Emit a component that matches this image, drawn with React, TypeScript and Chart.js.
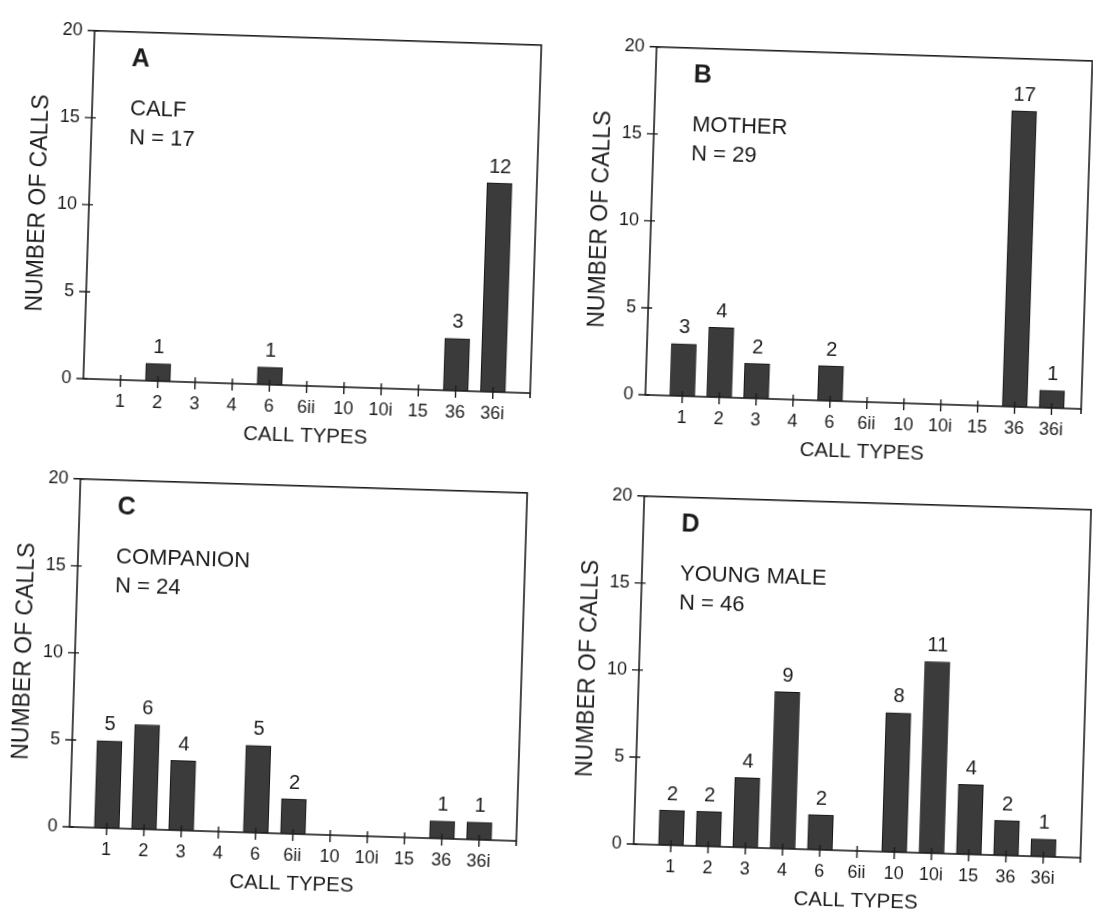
import React, { useEffect, useRef } from 'react';
import { Chart, registerables } from 'chart.js';

Chart.register(...registerables);

// ---------- data ----------
const callTypes = ['1', '2', '3', '4', '6', '6ii', '10', '10i', '15', '36', '36i'];
const calfCounts = [0, 1, 0, 0, 1, 0, 0, 0, 0, 3, 12];
const motherCounts = [3, 4, 2, 0, 2, 0, 0, 0, 0, 17, 1];
const companionCounts = [5, 6, 4, 0, 5, 2, 0, 0, 0, 1, 1];
const youngMaleCounts = [2, 2, 4, 9, 2, 0, 8, 11, 4, 2, 1];
const yTickValues = [0, 5, 10, 15, 20];
const panelLetters = ['A', 'B', 'C', 'D'];
const panelNames = ['CALF', 'MOTHER', 'COMPANION', 'YOUNG MALE'];
const panelN = [17, 29, 24, 46];
const xTitle = 'CALL TYPES';
const yTitle = 'NUMBER OF CALLS';

const panelSeries = [calfCounts, motherCounts, companionCounts, youngMaleCounts];

// ---------- layout / style ----------
const INK = '#1c1c1c';
const BAR_FILL = '#3b3b3b';
const FONT = '"Liberation Sans", Arial, Helvetica, sans-serif';
const CANVAS_H = 446;
const BOX_LEFT = 80;
const BOX_TOP = 15;
const BOX_H = 356;
const RIGHT_PAD = 15;
const ORIGIN_Y = BOX_TOP + BOX_H / 2;

// bottom-left corner of each plot box in the page, box width, x extent, tilt
const panelPlacement = [
  { blx: 83.3, bly: 378.3, w: 447, xMax: 12, rot: 1.85 },
  { blx: 645.0, bly: 395.0, w: 436, xMax: 11.8, rot: 1.85 },
  { blx: 70.0, bly: 827.3, w: 447, xMax: 12, rot: 1.8 },
  { blx: 633.3, bly: 844.0, w: 447, xMax: 12, rot: 1.75 },
];

const decorPlugin = {
  id: 'decor',
  afterDraw(chart: any) {
    const { ctx, chartArea: a, scales } = chart;
    const o = chart.options.plugins.decor;
    ctx.save();
    ctx.strokeStyle = INK;
    ctx.lineWidth = 1.6;
    ctx.strokeRect(a.left, a.top, a.right - a.left, a.bottom - a.top);
    ctx.beginPath();
    ctx.moveTo(a.right, a.bottom);
    ctx.lineTo(a.right, a.bottom + 5);
    ctx.stroke();
    ctx.lineWidth = 1.4;
    ctx.beginPath();
    scales.y.ticks.forEach((t: any) => {
      const py = scales.y.getPixelForValue(t.value);
      ctx.moveTo(a.left - 7, py);
      ctx.lineTo(a.left + 4, py);
    });
    scales.x.ticks.forEach((t: any) => {
      const px = scales.x.getPixelForValue(t.value);
      ctx.moveTo(px, a.bottom - 5);
      ctx.lineTo(px, a.bottom + 7);
    });
    ctx.stroke();

    // value labels
    ctx.fillStyle = INK;
    ctx.textAlign = 'center';
    ctx.textBaseline = 'bottom';
    ctx.font = `20px ${FONT}`;
    const meta = chart.getDatasetMeta(0);
    const data = chart.data.datasets[0].data;
    meta.data.forEach((bar: any, i: number) => {
      const v = data[i].y;
      if (v > 0) ctx.fillText(String(v), bar.x, bar.y - 6);
    });

    // panel annotation
    ctx.textAlign = 'left';
    ctx.textBaseline = 'middle';
    ctx.font = `bold 25px ${FONT}`;
    ctx.fillText(o.letter, a.left + 38, a.top + 27);
    ctx.font = `22px ${FONT}`;
    ctx.fillText(o.name, a.left + 38, a.top + 77);
    ctx.fillText(`N = ${o.n}`, a.left + 38, a.top + 106);
    ctx.restore();
  },
};

function Panel({ index }: { index: number }) {
  const ref = useRef<HTMLCanvasElement | null>(null);
  const p = panelPlacement[index];
  const canvasW = BOX_LEFT + p.w + RIGHT_PAD;
  useEffect(() => {
    if (!ref.current) return;
    const values = panelSeries[index];
    const chart = new Chart(ref.current, {
      type: 'bar',
      data: {
        datasets: [
          {
            data: values.map((v, i) => ({ x: i + 1, y: v })),
            backgroundColor: BAR_FILL,
            borderColor: '#151515',
            borderWidth: 1,
            barThickness: 25,
          },
        ],
      },
      options: {
        animation: false,
        responsive: false,
        devicePixelRatio: 1,
        layout: { padding: { left: 0, top: BOX_TOP, right: RIGHT_PAD, bottom: 0 } },
        plugins: {
          legend: { display: false },
          tooltip: { enabled: false },
          decor: { letter: panelLetters[index], name: panelNames[index], n: panelN[index] },
        } as any,
        scales: {
          x: {
            type: 'linear',
            min: 0,
            max: p.xMax,
            offset: false,
            grid: { display: false, drawTicks: false, offset: false },
            border: { display: false },
            afterBuildTicks: (s: any) => {
              s.ticks = callTypes.map((_, i) => ({ value: i + 1 }));
            },
            afterFit: (s: any) => {
              s.height = CANVAS_H - BOX_TOP - BOX_H;
            },
            ticks: {
              autoSkip: false,
              maxRotation: 0,
              padding: 11,
              color: INK,
              font: { family: FONT, size: 18 },
              callback: (v: any) => callTypes[Number(v) - 1] ?? '',
            },
            title: {
              display: true,
              text: xTitle,
              color: INK,
              font: { family: FONT, size: 20.5 },
              padding: { top: 0, bottom: 12 },
            },
          },
          y: {
            type: 'linear',
            min: 0,
            max: 20,
            grid: { display: false, drawTicks: false },
            border: { display: false },
            afterBuildTicks: (s: any) => {
              s.ticks = yTickValues.map((v) => ({ value: v }));
            },
            afterFit: (s: any) => {
              s.width = BOX_LEFT;
            },
            ticks: {
              padding: 12,
              color: INK,
              font: { family: FONT, size: 18 },
            },
            title: {
              display: true,
              text: yTitle,
              color: INK,
              font: { family: FONT, size: 23 },
              padding: { top: 16, bottom: 0 },
            },
          },
        },
      },
      plugins: [decorPlugin as any],
    });
    return () => chart.destroy();
  }, [index]);

  // centre of the plot box in the page, from its bottom-left corner and tilt
  const t = (p.rot * Math.PI) / 180;
  const hw = p.w / 2;
  const hh = BOX_H / 2;
  const cx = p.blx + hw * Math.cos(t) + hh * Math.sin(t);
  const cy = p.bly + hw * Math.sin(t) - hh * Math.cos(t);
  const originX = BOX_LEFT + hw;
  return (
    <canvas
      ref={ref}
      width={canvasW}
      height={CANVAS_H}
      style={{
        position: 'absolute',
        left: cx - originX,
        top: cy - ORIGIN_Y,
        width: canvasW,
        height: CANVAS_H,
        transformOrigin: `${originX}px ${ORIGIN_Y}px`,
        transform: `rotate(${p.rot}deg)`,
      }}
    />
  );
}

export default function App() {
  return (
    <div
      style={{
        position: 'absolute',
        left: 0,
        top: 0,
        width: 1093,
        height: 909,
        overflow: 'hidden',
        background: '#ffffff',
      }}
    >
      {panelSeries.map((_, i) => (
        <Panel key={i} index={i} />
      ))}
    </div>
  );
}
